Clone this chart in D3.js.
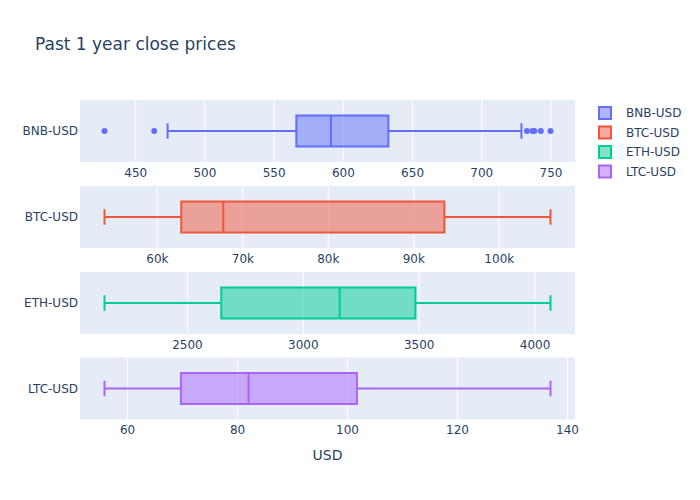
<!DOCTYPE html>
<html>
<head>
<meta charset="utf-8">
<script src="https://cdn.jsdelivr.net/npm/d3@7"></script>
<style>
  body { margin: 0; background: #fff; }
  text { font-family: "DejaVu Sans", Verdana, sans-serif; fill: #2a3f5f; }
</style>
</head>
<body>
<svg id="chart" width="700" height="500"></svg>
<script>
// box summary per ticker: [lower whisker, q1, median, q3, upper whisker]
const tickers = ['BNB-USD', 'BTC-USD', 'ETH-USD', 'LTC-USD']
const colors = ['#636efa', '#EF553B', '#00cc96', '#ab63fa']

const bnbStats = [473.4, 566.4, 591.4, 632.9, 729]
const btcStats = [53870, 62850, 67770, 93640, 106050]
const ethStats = [2144, 2648, 3159, 3486, 4069]
const ltcStats = [55.9, 69.8, 82.1, 101.8, 137]

const bnbOutliers = [427.8, 463.7, 733, 737, 738.4, 743, 750]
const btcOutliers = []
const ethOutliers = []
const ltcOutliers = []

const bnbTicks = [450, 500, 550, 600, 650, 700, 750]
const btcTicks = [60000, 70000, 80000, 90000, 100000]
const ethTicks = [2500, 3000, 3500, 4000]
const ltcTicks = [60, 80, 100, 120, 140]

const stats = [bnbStats, btcStats, ethStats, ltcStats]
const outliers = [bnbOutliers, btcOutliers, ethOutliers, ltcOutliers]
const ticks = [bnbTicks, btcTicks, ethTicks, ltcTicks]
const tickFormats = [d3.format('d'), d => `${d / 1000}k`, d3.format('d'), d3.format('d')]

const left = 80
const right = 575
const pad = 24.5
const panelTop = [100, 186, 272, 357.5]
const panelH = 62

const svg = d3.select('#chart')

svg.append('text')
  .attr('x', 35).attr('y', 50)
  .style('font-size', '17px')
  .text('Past 1 year close prices')

tickers.forEach((name, i) => {
  const s = stats[i]
  const all = s.concat(outliers[i])
  const x = d3.scaleLinear()
    .domain(d3.extent(all))
    .range([left + pad, right - pad])
  const top = panelTop[i]
  const g = svg.append('g')
  const cy = top + panelH / 2
  const boxH = panelH / 2
  const color = colors[i]

  g.append('rect')
    .attr('x', left).attr('y', top)
    .attr('width', right - left).attr('height', panelH)
    .attr('fill', '#e5ecf6')

  // gridlines + tick labels
  const axis = d3.axisBottom(x)
    .tickValues(ticks[i])
    .tickFormat(tickFormats[i])
    .tickSize(panelH)
    .tickPadding(6)
  const ax = g.append('g')
    .attr('transform', `translate(0,${top})`)
    .call(axis)
  ax.select('.domain').remove()
  ax.selectAll('line').attr('stroke', '#fff').attr('stroke-width', 1)
  ax.selectAll('text')
    .style('font-size', '12px')
    .style('font-family', '"DejaVu Sans", Verdana, sans-serif')
    .attr('fill', '#2a3f5f')

  // y category label
  g.append('text')
    .attr('x', left - 2).attr('y', cy)
    .attr('text-anchor', 'end')
    .attr('dominant-baseline', 'central')
    .style('font-size', '12px')
    .text(name)

  // whiskers
  g.append('line')
    .attr('x1', x(s[0])).attr('x2', x(s[1]))
    .attr('y1', cy).attr('y2', cy)
    .attr('stroke', color).attr('stroke-width', 2)
  g.append('line')
    .attr('x1', x(s[3])).attr('x2', x(s[4]))
    .attr('y1', cy).attr('y2', cy)
    .attr('stroke', color).attr('stroke-width', 2)
  for (const v of [s[0], s[4]]) {
    g.append('line')
      .attr('x1', x(v)).attr('x2', x(v))
      .attr('y1', cy - boxH / 4).attr('y2', cy + boxH / 4)
      .attr('stroke', color).attr('stroke-width', 2)
  }

  // box
  g.append('rect')
    .attr('x', x(s[1])).attr('y', cy - boxH / 2)
    .attr('width', x(s[3]) - x(s[1])).attr('height', boxH)
    .attr('fill', color).attr('fill-opacity', 0.5)
    .attr('stroke', color).attr('stroke-width', 2)
  g.append('line')
    .attr('x1', x(s[2])).attr('x2', x(s[2]))
    .attr('y1', cy - boxH / 2).attr('y2', cy + boxH / 2)
    .attr('stroke', color).attr('stroke-width', 2)

  g.selectAll('circle')
    .data(outliers[i])
    .join('circle')
    .attr('cx', d => x(d)).attr('cy', cy)
    .attr('r', 3)
    .attr('fill', color)

  // legend item
  const ly = 113 + i * 19.5
  svg.append('rect')
    .attr('x', 599).attr('y', ly - 6)
    .attr('width', 12).attr('height', 12)
    .attr('fill', color).attr('fill-opacity', 0.5)
    .attr('stroke', color).attr('stroke-width', 2)
  svg.append('text')
    .attr('x', 626).attr('y', ly)
    .attr('dominant-baseline', 'central')
    .style('font-size', '12px')
    .text(name)
})

svg.append('text')
  .attr('x', (left + right) / 2).attr('y', 460)
  .attr('text-anchor', 'middle')
  .style('font-size', '14px')
  .text('USD')
</script>
</body>
</html>
